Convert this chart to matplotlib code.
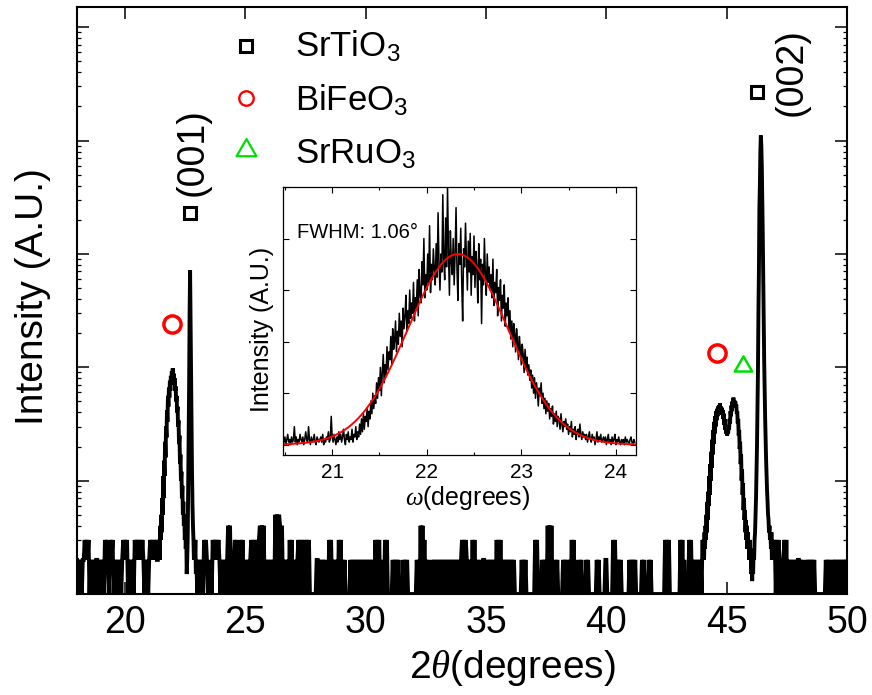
import numpy as np
import matplotlib.pyplot as plt
from matplotlib.path import Path
from matplotlib.ticker import LogLocator, NullFormatter, MultipleLocator

plt.rcParams['font.family'] = ['Liberation Sans', 'DejaVu Sans']
plt.rcParams['mathtext.fontset'] = 'custom'
plt.rcParams['mathtext.rm'] = 'Liberation Sans'
plt.rcParams['mathtext.it'] = 'Liberation Serif:italic'

# theta-2theta scan: background counts every 0.04 deg from 18 to 50 deg
scan_start, scan_step = 18.0, 0.04
background_counts = (
    "21212122323231212121221212121323212323121212121232"   # 18-20
    "32312121213232323232121212323232321212121212121212"   # 20-22
    "21212121212121212121212121212121323211121323232321"   # 22-24
    "21212124141212313121313121212123131313134141412121"   # 24-26
    "21212151515414121212131312121231313123131311111112"   # 26-28
    "21212121211131312121213131212111112121212121212121"   # 28-30
    "21212121213131311211313111112121212111121212111111"   # 30-32
    "11121214141312121112121212121212121212121212121212"   # 32-34
    "31313212121313121211212212121212121131313121212121"   # 34-36
    "21212111111121212111111111313111121212141414111212"   # 36-38
    "11111212121121313121112121111212111111112121111112"   # 38-40
    "21111113131212121111111121212121111112121111212111"   # 40-42
    "11111111111313131111111111131312111131312121212121"   # 42-44
    "21212121212121212121212121212121212121212121212121"   # 44-46
    "21212121212121212121212123131321212313121212121212"   # 46-48
    "21212111212121212111111111112121211212121212121212"   # 48-50
    "1"
)

# BiFeO3 (001) and SrTiO3 (001) reflections, 0.02 deg steps
peak_001_start, peak_step = 21.36, 0.02
peak_001_counts = [
    2, 3, 2, 3, 2, 4, 3, 5, 3.5, 7,              # 21.36
    5, 11, 7, 15, 11, 22, 16, 30, 24, 42,        # 21.56
    33, 56, 45, 66, 54, 76, 62, 84, 72, 92,      # 21.76
    80, 98, 78, 88, 70, 80, 62, 68, 50, 56,      # 21.96
    40, 45, 30, 34, 21, 25, 14, 17, 10, 12,      # 22.16
    7, 9, 5, 6.5, 4, 5, 3, 4, 2.5, 3.5,          # 22.36
    1.5, 2, 3, 8, 20, 70, 300, 716, 250, 75,     # 22.56
    25, 12, 6, 4, 3, 2, 3, 2, 3, 1.5,            # 22.76
    2,                                           # 22.96
]

# BiFeO3 / SrRuO3 (002) and SrTiO3 (002) reflections, 0.02 deg steps
peak_002_start = 43.98
peak_002_counts = [
    2, 3, 2, 3, 2, 3.5, 2.5, 4, 3, 5,                    # 43.98
    3.5, 6.5, 4.5, 8, 6, 11, 7.5, 14, 10, 18,            # 44.18
    13, 23, 17, 28, 21, 33, 26, 37, 30, 41,              # 44.38
    34, 43, 37, 45, 39, 46, 41, 48, 40, 45,              # 44.58
    42, 44, 38, 42, 35, 39, 31, 35, 28, 31,              # 44.78
    26, 29, 25, 28, 26, 30, 28, 35, 32, 41,              # 44.98
    37, 46, 41, 50, 44, 54, 46, 51, 47, 50,              # 45.18
    44, 47, 39, 41, 32, 35, 25, 28, 19, 22,              # 45.38
    14, 17, 10, 12.5, 7.5, 9.5, 5.5, 7, 4.5, 5.5,        # 45.58
    3.5, 4.5, 3, 4, 2.5, 3.5, 2.5, 3, 2, 3,              # 45.78
    2, 2.5, 1.5, 2, 1.3, 2, 1.5, 2.5, 2, 3,              # 45.98
    3.5, 5, 7, 12, 20, 45, 90, 300, 700, 2500,           # 46.18
    4000, 8000, 11070, 9000, 6000, 3000, 1500, 600, 250, 110,  # 46.38
    60, 35, 22, 15, 11, 8, 6.5, 5, 4.5, 3.5,             # 46.58
    4, 3, 3.5, 2.5, 3.5, 2, 3, 2, 2.5,                   # 46.78
]

# rocking curve of the BiFeO3 (001) peak, 0.01 deg steps from 20.48 deg
rocking_start, rocking_step = 20.48, 0.01
rocking_counts = [
    2, 1, 3, 0, 2, 4, 1, 2, 0, 3, 1, 2, 7, 1, 3, 0, 2, 1, 4, 2,
    1, 3, 0, 2, 5, 2, 1, 7, 2, 0, 3, 1, 2, 4, 1, 0, 3, 2, 1, 2,
    3, 1, 4, 0, 2, 1, 3, 2, 5, 1, 2, 11, 3, 1, 4, 2, 0, 3, 1, 5,
    2, 4, 1, 3, 6, 2, 0, 4, 2, 5, 1, 3, 2, 6, 1, 4, 3, 7, 2, 5,
    3, 8, 4, 10, 5, 12, 6, 11, 9, 14, 7, 13, 10, 17, 12, 20, 14, 19, 16, 24,
    18, 26, 21, 30, 19, 28, 35, 24, 31, 27, 38, 29, 36, 33, 42, 31, 45, 37, 40, 48,
    36, 44, 39, 51, 42, 48, 38, 53, 45, 50, 58, 44, 52, 47, 60, 49, 55, 51, 63, 48,
    57, 53, 64, 50, 68, 58, 55, 71, 62, 80, 57, 66, 60, 74, 63, 85, 59, 70, 64, 76,
    68, 62, 78, 65, 90, 70, 60, 74, 67, 97, 72, 64, 88, 69, 100, 75, 58, 83, 71, 66,
    80, 62, 74, 92, 68, 56, 78, 70, 84, 63, 48, 76, 69, 86, 72, 60, 79, 67, 82, 58,
    73, 66, 81, 61, 75, 69, 55, 78, 64, 72, 47, 70, 62, 80, 66, 58, 74, 63, 69, 60,
    66, 57, 72, 54, 63, 59, 68, 50, 61, 56, 64, 48, 58, 53, 62, 46, 55, 50, 57, 44,
    52, 41, 48, 38, 47, 43, 36, 45, 40, 33, 42, 37, 31, 39, 35, 28, 37, 30, 34, 27,
    31, 25, 29, 22, 27, 20, 26, 18, 24, 21, 15, 22, 19, 24, 16, 20, 14, 18, 12, 17,
    13, 16, 10, 14, 11, 15, 8, 12, 9, 13, 7, 11, 10, 6, 12, 8, 5, 9, 7, 10,
    6, 8, 4, 7, 5, 9, 3, 6, 4, 7, 2, 5, 6, 3, 8, 4, 2, 5, 3, 4,
    2, 4, 1, 3, 5, 2, 1, 4, 2, 3, 0, 2, 5, 1, 3, 2, 4, 1, 2, 3,
    1, 3, 0, 2, 4, 1, 2, 0, 3, 1, 2, 4, 0, 2, 1, 3, 1, 0, 2, 1,
    2, 0, 3, 1, 2, 1, 0, 2, 3, 1, 0, 2, 1,
]

# Gaussian fit (Origin form, width parameter w)
fit_center = 22.33
fit_height = 0.74
fwhm_label = 1.06

# phase markers: (2theta, counts)
sto_marks = [(22.69, 2275), (46.27, 27000)]
bfo_marks = [(21.95, 239), (44.58, 133)]
sro_marks = [(45.69, 102)]

red = '#ff0000'
green = '#00dd00'
# equilateral open triangle
tri = Path([(-1, -0.577), (1, -0.577), (0, 1.155), (-1, -0.577)],
           [Path.MOVETO, Path.LINETO, Path.LINETO, Path.CLOSEPOLY])

# assemble the full scan
theta = scan_start + scan_step * np.arange(len(background_counts))
counts = np.array([int(c) for c in background_counts], dtype=float)
for start, pc in ((peak_001_start, peak_001_counts), (peak_002_start, peak_002_counts)):
    px = start + peak_step * np.arange(len(pc))
    keep = (theta < px[0] - 1e-6) | (theta > px[-1] + 1e-6)
    theta = np.concatenate([theta[keep], px])
    counts = np.concatenate([counts[keep], pc])
order = np.argsort(theta)
theta, counts = theta[order], counts[order]

fig = plt.figure(figsize=(8.72, 6.95), dpi=100)
ax = fig.add_axes([0.0883, 0.1453, 0.883, 0.845])
ax.plot(theta, counts, color='black', lw=2.8, solid_joinstyle='miter')
ax.set_yscale('log')
ax.set_xlim(18, 50)
ax.set_ylim(1, 10 ** 5.18)
ax.xaxis.set_major_locator(MultipleLocator(5))
ax.yaxis.set_major_locator(LogLocator(base=10, numticks=10))
ax.yaxis.set_minor_locator(LogLocator(base=10, subs=np.arange(2, 10), numticks=10))
ax.yaxis.set_major_formatter(NullFormatter())
ax.yaxis.set_minor_formatter(NullFormatter())
ax.tick_params(which='major', direction='in', length=8.5, width=1.1, top=True, right=True,
               labelsize=27, pad=8)
ax.tick_params(which='minor', direction='in', length=3, width=0.9, top=True, right=True)
ax.tick_params(axis='y', labelleft=False)
for s in ax.spines.values():
    s.set_linewidth(1.5)

# peak markers and Miller indices
for x, y in sto_marks:
    ax.plot(x, y, 's', ms=8.6, mfc='none', mec='black', mew=2.2)
for x, y in bfo_marks:
    ax.plot(x, y, 'o', ms=12.4, mfc='none', mec=red, mew=2.5)
for x, y in sro_marks:
    ax.plot(x, y, marker=tri, ms=14.5, mfc='none', mec=green, mew=1.8, ls='none')
ax.text(22.82, 7840, '(001)', rotation=90, ha='center', va='center', fontsize=27)
ax.text(47.72, 40550, '(002)', rotation=90, ha='center', va='center', fontsize=27)

# phase key
key = [('s', 'black', 8.6, 2.2, 0.934, 0.9149, r'SrTiO$_3$'),
       ('o', red, 10.4, 1.7, 0.8445, 0.8224, r'BiFeO$_3$'),
       (tri, green, 16.5, 1.6, 0.756, 0.7322, r'SrRuO$_3$')]
for m, c, ms, mew, ym, yt, label in key:
    ax.plot(0.220, ym, marker=m, ms=ms, mfc='none', mec=c, mew=mew, ls='none',
            transform=ax.transAxes, clip_on=False)
    ax.text(0.2831, yt, label, transform=ax.transAxes, fontsize=25, va='baseline')

fig.text(512 / 872, 1 - 668 / 695, r'2$\theta$(degrees)', ha='center', va='center', fontsize=28)
fig.text(33 / 872, 1 - 297 / 695, 'Intensity (A.U.)', rotation=90, ha='center', va='center',
         fontsize=28)

# inset: rocking curve
omega = rocking_start + rocking_step * np.arange(len(rocking_counts))
intensity = np.array(rocking_counts) / 100.0
omega_fit = np.linspace(20.48, 24.21, 400)
fit = fit_height * np.exp(-2 * (omega_fit - fit_center) ** 2 / fwhm_label ** 2)

ins = fig.add_axes([283 / 872, 240 / 695, 352.7 / 872, 268 / 695])
ins.plot(omega, intensity, color='black', lw=1.1)
ins.plot(omega_fit, fit, color=red, lw=1.4)
ins.set_xlim(20.48, 24.21)
ins.set_ylim(-0.04, 1.0)
ins.xaxis.set_major_locator(MultipleLocator(1))
ins.xaxis.set_minor_locator(MultipleLocator(0.5))
ins.yaxis.set_major_locator(MultipleLocator(0.2))
ins.tick_params(which='major', direction='in', length=4, width=0.8, top=True, right=True,
                labelsize=15, pad=6)
ins.tick_params(which='minor', direction='in', length=2.5, width=0.8, top=True, right=True)
ins.tick_params(axis='y', labelleft=False)
for s in ins.spines.values():
    s.set_linewidth(0.9)
ins.text(0.0397, 0.81, u'FWHM: %.2f\u00b0' % fwhm_label, transform=ins.transAxes,
         fontsize=14.5, va='baseline')
fig.text(468 / 872, 1 - 498 / 695, r'$\omega$(degrees)', ha='center', va='center', fontsize=18)
fig.text(262 / 872, 1 - 329 / 695, 'Intensity (A.U.)', rotation=90, ha='center', va='center',
         fontsize=18)

fig.savefig('out.png', dpi=100)
